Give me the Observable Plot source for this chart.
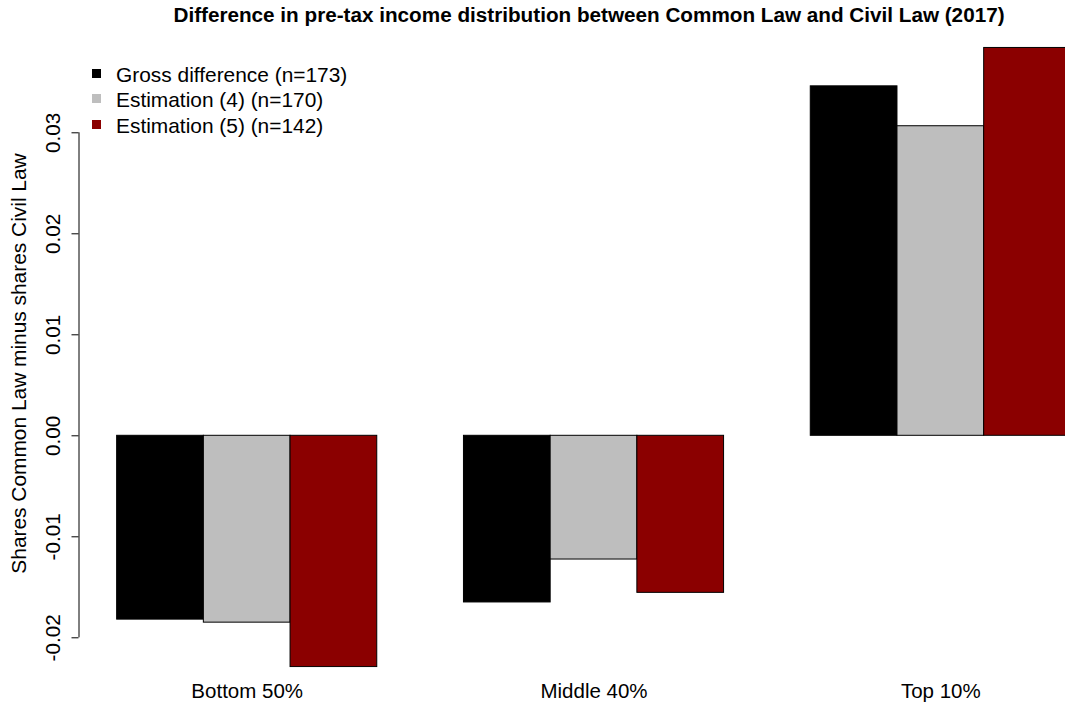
<!DOCTYPE html>
<html><head><meta charset="utf-8">
<script src="https://cdn.jsdelivr.net/npm/d3@7"></script>
<script src="https://cdn.jsdelivr.net/npm/@observablehq/plot@0.6"></script>
<style>
body{margin:0;background:#fff;font-family:"Liberation Sans",Arial,sans-serif;color:#000;}
#wrap{position:relative;width:1065px;height:704px;overflow:hidden;background:#fff;}
#title{height:30px;line-height:30px;font-weight:bold;font-size:20.7px;text-align:center;padding-left:113px;white-space:nowrap;}
#legend{position:absolute;left:92px;top:62px;font-size:20.9px;}
.row{display:flex;align-items:center;height:25.5px;white-space:nowrap;}
.sw{width:9px;height:9px;margin-right:15px;position:relative;top:-1.5px;}
#chart svg{overflow:hidden;display:block;}
</style></head><body>
<div id="wrap"><div id="title"></div><div id="chart"></div><div id="legend"></div></div>
<script>
const groups = ["Bottom 50%", "Middle 40%", "Top 10%"];
const series = ["Gross difference (n=173)", "Estimation (4) (n=170)", "Estimation (5) (n=142)"];
const grossDiff = [-0.0182, -0.0165, 0.0346];
const estimation4 = [-0.0185, -0.01225, 0.03065];
const estimation5 = [-0.0229, -0.01555, 0.0384];
const colors = ["#000000", "#BEBEBE", "#8B0000"];
const yTicks = [-0.02, -0.01, 0, 0.01, 0.02, 0.03];
const yLabel = "Shares Common Law minus shares Civil Law";
const titleText = "Difference in pre-tax income distribution between Common Law and Civil Law (2017)";

const seriesValues = [grossDiff, estimation4, estimation5];
const perGroup = series.length + 1; // one empty slot between groups (barplot layout)
const rows = groups.flatMap((g, gi) => series.map((s, si) => ({
  group: g, series: s, value: seriesValues[si][gi],
  x1: gi * perGroup + si + 1, x2: gi * perGroup + si + 2
})));
const groupCenters = groups.map((g, gi) => gi * perGroup + series.length / 2 + 1);
const xDomain = [0.56, 11.938];

document.getElementById("title").textContent = titleText;

const chart = Plot.plot({
  width: 1065, height: 674,
  marginLeft: 78.5, marginRight: 0, marginTop: 11.4, marginBottom: 36.4,
  style: {fontFamily: "Liberation Sans, Arial, sans-serif", fontSize: "20.7px", background: "#fff", color: "#000"},
  x: {type: "linear", domain: xDomain},
  y: {domain: [-0.023, 0.039]},
  color: {domain: series, range: colors},
  marks: [
    Plot.rectY(rows, {x1: "x1", x2: "x2", y1: 0, y2: "value", fill: "series", stroke: "#000", strokeWidth: 1, clip: true}),
    Plot.ruleX([xDomain[0]], {y1: d3.min(yTicks), y2: d3.max(yTicks), stroke: "#000", strokeWidth: 1}),
    Plot.axisY({ticks: yTicks, tickSize: 7, tickRotate: -90, tickPadding: 12.5, tickFormat: d => d.toFixed(2), label: null, fontSize: 20.7}),
    Plot.axisX({ticks: groupCenters, tickFormat: d => groups[groupCenters.indexOf(d)], tickSize: 0, tickPadding: 15.5, label: null, fontSize: 20.5}),
    Plot.text([yLabel], {frameAnchor: "left", text: d => d, rotate: -90, dx: -60, dy: 8.5, textAnchor: "middle", lineAnchor: "middle", fontSize: 20.9})
  ]
});
document.getElementById("chart").appendChild(chart);

const legend = document.getElementById("legend");
series.forEach((s, i) => {
  const row = document.createElement("div");
  row.className = "row";
  const sw = document.createElement("span");
  sw.className = "sw";
  sw.style.background = colors[i];
  const t = document.createElement("span");
  t.textContent = s;
  row.appendChild(sw); row.appendChild(t);
  legend.appendChild(row);
});
</script>
</body></html>
